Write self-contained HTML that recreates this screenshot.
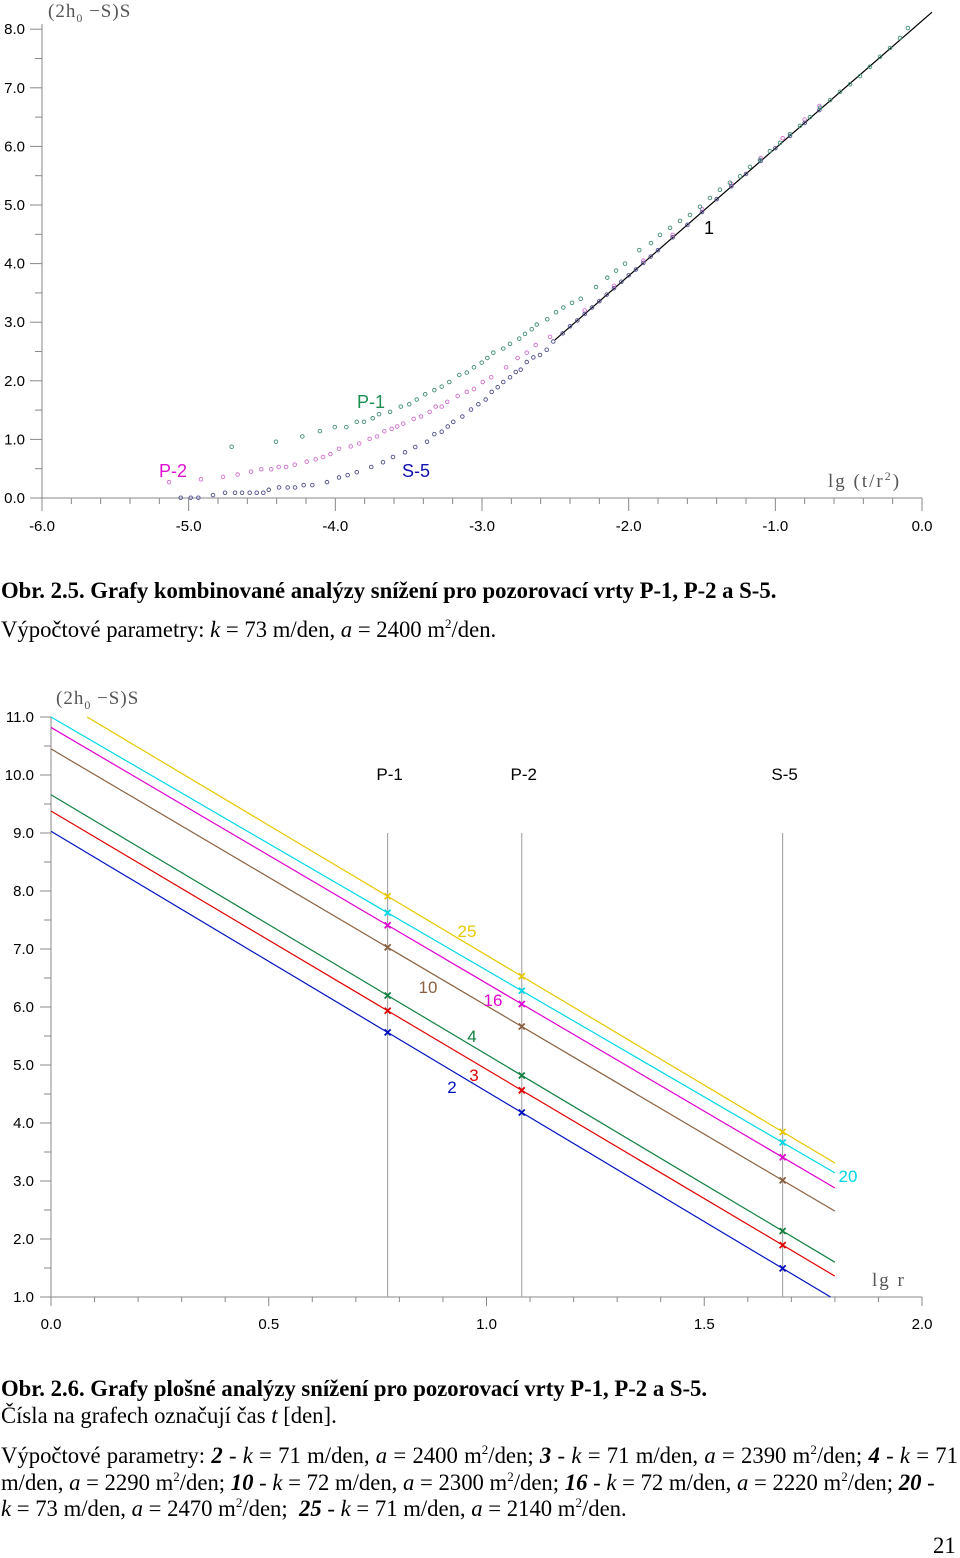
<!DOCTYPE html>
<html><head><meta charset="utf-8"><style>
body{margin:0;background:#fff;width:960px;height:1557px;overflow:hidden;position:relative}
.cap{position:absolute;left:1px;font-family:"Liberation Serif",serif;font-size:22.7px;color:#000;white-space:nowrap;line-height:1}
sup{font-size:13px;vertical-align:9px;line-height:0}
svg text{font-family:"Liberation Sans",sans-serif}
svg text.ser{font-family:"Liberation Serif",serif}
</style></head><body>
<svg id="c1" width="960" height="545" style="position:absolute;left:0;top:0"></svg>
<div class="cap" style="top:580px"><b>Obr. 2.5. Grafy kombinované analýzy snížení pro pozorovací vrty P-1, P-2 a S-5.</b></div>
<div class="cap" style="top:619px">Výpočtové parametry: <i>k</i> = 73 m/den, <i>a</i> = 2400 m<sup>2</sup>/den.</div>
<svg id="c2" width="960" height="660" style="position:absolute;left:0;top:685px"></svg>
<div class="cap" style="top:1378px"><b>Obr. 2.6. Grafy plošné analýzy snížení pro pozorovací vrty P-1, P-2 a S-5.</b></div>
<div class="cap" style="top:1405px">Čísla na grafech označují čas <i>t</i> [den].</div>
<div class="cap" style="top:1443px;line-height:26.5px;white-space:normal;width:957px;text-align:justify;text-align-last:left">Výpočtové parametry: <b><i>2</i></b> - <i>k</i> = 71 m/den, <i>a</i> = 2400 m<sup>2</sup>/den; <b><i>3</i></b> - <i>k</i> = 71 m/den, <i>a</i> = 2390 m<sup>2</sup>/den; <b><i>4</i></b> - <i>k</i> = 71 m/den, <i>a</i> = 2290 m<sup>2</sup>/den; <b><i>10</i></b> - <i>k</i> = 72 m/den, <i>a</i> = 2300 m<sup>2</sup>/den; <b><i>16</i></b> - <i>k</i> = 72 m/den, <i>a</i> = 2220 m<sup>2</sup>/den; <b><i>20</i></b> -<br style="display:block;content:''"><span style="display:block;text-align:left"><i>k</i> = 73 m/den, <i>a</i> = 2470 m<sup>2</sup>/den; &nbsp;<b><i>25</i></b> - <i>k</i> = 71 m/den, <i>a</i> = 2140 m<sup>2</sup>/den.</span></div>
<div class="cap" style="top:1535px;left:933px">21</div>
<script>
// ---------- Chart 1 data ----------
const p1X=[-4.707,-4.405,-4.225,-4.105,-4.004,-3.925,-3.854,-3.805,-3.745,-3.702,-3.627,-3.554,-3.496,-3.445,-3.387,-3.325,-3.275,-3.223,-3.155,-3.104,-3.055,-3.002,-2.964,-2.923,-2.855,-2.809,-2.746,-2.707,-2.661,-2.627,-2.555,-2.495,-2.446,-2.386,-2.327,-2.223,-2.146,-2.086,-2.025,-1.928,-1.848,-1.787,-1.718,-1.650,-1.582,-1.514,-1.446,-1.378,-1.310,-1.241,-1.173,-1.105,-1.037,-0.968,-0.900,-0.832,-0.764,-0.695,-0.627,-0.559,-0.491,-0.423,-0.355,-0.286,-0.218,-0.150,-0.096];
const p1Y=[0.875,0.96,1.05,1.14,1.21,1.21,1.30,1.30,1.36,1.43,1.47,1.56,1.60,1.68,1.77,1.84,1.90,1.98,2.10,2.14,2.23,2.31,2.39,2.48,2.55,2.63,2.72,2.80,2.88,2.96,3.05,3.17,3.25,3.33,3.40,3.60,3.76,3.88,4.00,4.23,4.35,4.49,4.61,4.73,4.83,4.97,5.12,5.26,5.38,5.49,5.65,5.77,5.92,6.06,6.21,6.35,6.50,6.66,6.79,6.93,7.06,7.20,7.36,7.53,7.68,7.85,8.02];
const p2X=[-5.134,-4.916,-4.766,-4.666,-4.575,-4.505,-4.437,-4.386,-4.336,-4.277,-4.195,-4.134,-4.084,-4.034,-3.975,-3.895,-3.837,-3.766,-3.716,-3.666,-3.616,-3.578,-3.537,-3.466,-3.416,-3.357,-3.316,-3.275,-3.237,-3.166,-3.104,-3.055,-2.995,-2.937,-2.836,-2.757,-2.695,-2.634,-2.536,-2.3,-2.1,-1.9,-1.7,-1.5,-1.3,-1.1,-0.95,-0.8,-0.7];
const p2Y=[0.27,0.32,0.36,0.40,0.45,0.49,0.49,0.53,0.53,0.57,0.62,0.66,0.70,0.75,0.84,0.88,0.93,1.01,1.05,1.14,1.18,1.22,1.27,1.35,1.39,1.47,1.56,1.56,1.64,1.74,1.81,1.86,1.98,2.06,2.23,2.39,2.48,2.61,2.75,3.2,3.62,4.05,4.49,4.93,5.36,5.80,6.14,6.46,6.69];
const s5X=[-5.054,-4.986,-4.934,-4.834,-4.752,-4.684,-4.636,-4.584,-4.536,-4.491,-4.454,-4.384,-4.325,-4.275,-4.216,-4.157,-4.057,-3.975,-3.916,-3.854,-3.755,-3.675,-3.607,-3.525,-3.455,-3.375,-3.325,-3.275,-3.234,-3.196,-3.134,-3.075,-3.025,-2.975,-2.934,-2.893,-2.855,-2.809,-2.770,-2.736,-2.695,-2.650,-2.605,-2.559,-2.514,-2.45,-2.4,-2.35,-2.3,-2.25,-2.2,-2.15,-2.1,-2.05,-2.0,-1.95,-1.9,-1.85,-1.8,-1.7,-1.6,-1.5,-1.4,-1.3,-1.2,-1.1,-1.0,-0.9,-0.8,-0.7];
const s5Y=[0.005,0.005,0.005,0.05,0.09,0.09,0.09,0.09,0.09,0.09,0.14,0.18,0.18,0.18,0.22,0.22,0.27,0.35,0.39,0.44,0.53,0.61,0.70,0.78,0.87,0.96,1.09,1.13,1.22,1.30,1.39,1.51,1.60,1.68,1.81,1.89,1.98,2.06,2.15,2.19,2.32,2.40,2.44,2.53,2.67,2.81,2.93,3.03,3.14,3.25,3.36,3.47,3.58,3.69,3.80,3.90,4.01,4.12,4.23,4.45,4.66,4.88,5.10,5.32,5.53,5.75,5.97,6.18,6.40,6.62];
const fitX=[-2.502,0.068];
const fitY=[2.70,8.29];
const c1YTicks=["0.0","1.0","2.0","3.0","4.0","5.0","6.0","7.0","8.0"];
const c1XTicks=["-6.0","-5.0","-4.0","-3.0","-2.0","-1.0","0.0"];
// ---------- Chart 2 data ----------
const c2Series=["2","3","4","10","16","20","25"];
const c2X0=[0,0,0,0,0,0,0.083];
const c2Y0=[9.03,9.38,9.66,10.45,10.82,11.0,11.0];
const c2X1=[1.79,1.80,1.80,1.80,1.80,1.80,1.80];
const c2Y1=[1.0,1.36,1.60,2.48,2.88,3.14,3.31];
const wellNames=["P-1","P-2","S-5"];
const wellX=[0.773,1.081,1.680];
const c2YTicks=["1.0","2.0","3.0","4.0","5.0","6.0","7.0","8.0","9.0","10.0","11.0"];
const c2XTicks=["0.0","0.5","1.0","1.5","2.0"];

const NS="http://www.w3.org/2000/svg";
function mk(svg,tag,at,txt){const e=document.createElementNS(NS,tag);for(const k in at)e.setAttribute(k,at[k]);if(txt!==undefined)e.textContent=txt;svg.appendChild(e);return e;}

// ---------- Chart 1 ----------
(function(){
const s=document.getElementById('c1');
const X=v=>42+(v+6)*146.67, Y=v=>498-v*58.6;
let e=mk(s,'line',{x1:42,y1:24,x2:42,y2:498,stroke:'#888','stroke-width':1});

e=mk(s,'line',{x1:42,y1:498,x2:922,y2:498,stroke:'#888','stroke-width':1});

for(let i=0;i<=16;i++){const y=Y(i*0.5);mk(s,'line',{x1:i%2?35:30,y1:y,x2:42,y2:y,stroke:'#888'});}
c1YTicks.forEach(t=>{e=mk(s,'text',{x:25,y:Y(+t)+5,'font-size':15,'text-anchor':'end'},t);
});
for(let i=0;i<=30;i++){const x=X(-6+i*0.2);mk(s,'line',{x1:x,y1:498,x2:x,y2:i%5?504:511,stroke:'#888'});}
c1XTicks.forEach(t=>{e=mk(s,'text',{x:X(+t),y:531,'font-size':15,'text-anchor':'middle'},t);
});
e=mk(s,'line',{x1:X(fitX[0]),y1:Y(fitY[0]),x2:X(fitX[1]),y2:Y(fitY[1]),stroke:'#000','stroke-width':1.2});

function pts(xs,ys,col,name){xs.forEach((x,i)=>{const c=mk(s,'circle',{cx:X(x),cy:Y(ys[i]),r:1.8,fill:'none',stroke:col,'stroke-width':0.9});
});}
pts(p2X,p2Y,'#d070d0','p2-point');pts(s5X,s5Y,'#505090','s5-point');pts(p1X,p1Y,'#409070','p1-point');
const lab=(x,y,t,c,n)=>{const q=mk(s,'text',{x,y,'font-size':18,fill:c},t);};
lab(357,408,'P-1','#1a9050','label-p1');lab(159,477,'P-2','#e010d0','label-p2');lab(402,477,'S-5','#1010b0','label-s5');
lab(704,234,'1','#000','label-fit-1');
e=mk(s,'text',{x:48,y:17,'font-size':19,fill:'#555',class:'ser','letter-spacing':'1'});e.innerHTML='(2h<tspan font-size="12" dy="5">0</tspan><tspan dy="-5"> −S)S</tspan>';

e=mk(s,'text',{x:828,y:487,'font-size':19,fill:'#555',class:'ser','letter-spacing':'2'});e.innerHTML='lg (t/r<tspan font-size="12" dy="-7">2</tspan><tspan dy="7">)</tspan>';

})();

// ---------- Chart 2 ----------
(function(){
const s=document.getElementById('c2');const o=685;
const X=v=>51+v*435.5, Y=v=>1297-o-(v-1)*58;
const cols=['#0010c0','#e00000','#108040','#8b6040','#e000d0','#00d8e8','#e8c800'];
let e=mk(s,'line',{x1:51,y1:Y(11),x2:51,y2:Y(1),stroke:'#888'});

e=mk(s,'line',{x1:51,y1:Y(1),x2:922,y2:Y(1),stroke:'#888'});

for(let i=0;i<=20;i++){const y=Y(1+i*0.5);mk(s,'line',{x1:i%2?44:40,y1:y,x2:51,y2:y,stroke:'#888'});}
c2YTicks.forEach(t=>{e=mk(s,'text',{x:34,y:Y(+t)+5,'font-size':15,'text-anchor':'end'},t);
});
for(let i=0;i<=20;i++){const x=X(i*0.1);mk(s,'line',{x1:x,y1:Y(1),x2:x,y2:Y(1)+(i%5?5:9),stroke:'#888'});}
c2XTicks.forEach(t=>{e=mk(s,'text',{x:X(+t),y:Y(1)+32,'font-size':15,'text-anchor':'middle'},t);
});
wellX.forEach((w,i)=>{e=mk(s,'line',{x1:X(w),y1:Y(9),x2:X(w),y2:Y(1),stroke:'#999'});

e=mk(s,'text',{x:X(w)+2,y:Y(10)+5,'font-size':17,'text-anchor':'middle'},wellNames[i]);
});
c2Series.forEach((n,i)=>{
 e=mk(s,'line',{x1:X(c2X0[i]),y1:Y(c2Y0[i]),x2:X(c2X1[i]),y2:Y(c2Y1[i]),stroke:cols[i],'stroke-width':1.2});
 
 const sl=(c2Y1[i]-c2Y0[i])/(c2X1[i]-c2X0[i]);
 wellX.forEach(w=>{const v=c2Y0[i]+sl*(w-c2X0[i]);const cx=X(w),cy=Y(v);
  const g=mk(s,'path',{d:`M${cx-3} ${cy-3}L${cx+3} ${cy+3}M${cx+3} ${cy-3}L${cx-3} ${cy+3}`,stroke:cols[i],'stroke-width':1.8});
  });
});
const lp=[[452,1093],[474,1081],[472,1042],[428,993],[493,1006],[848,1182],[467,937]];
c2Series.forEach((n,i)=>{e=mk(s,'text',{x:lp[i][0],y:lp[i][1]-o,'font-size':17,fill:cols[i],'text-anchor':'middle'},n);
});
e=mk(s,'text',{x:56,y:19,'font-size':19,fill:'#555',class:'ser','letter-spacing':'1'});e.innerHTML='(2h<tspan font-size="12" dy="5">0</tspan><tspan dy="-5"> −S)S</tspan>';

e=mk(s,'text',{x:872,y:1286-o,'font-size':19,fill:'#555',class:'ser','letter-spacing':'2'},'lg  r');

})();
</script>
</body></html>
